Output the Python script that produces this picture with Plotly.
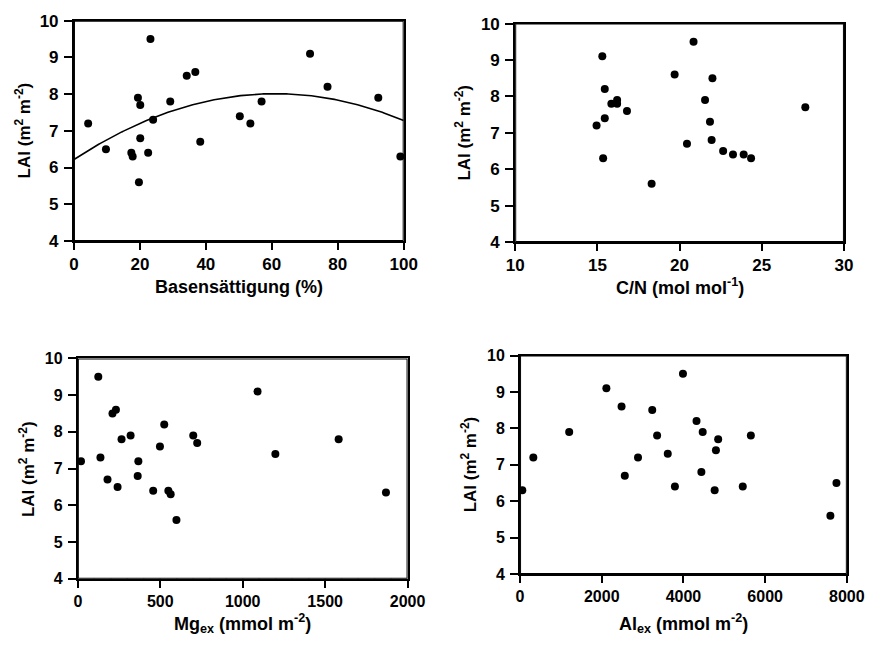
import numpy as np
import plotly.graph_objects as go

# ---------------- data ----------------
bs_x = [4.3, 9.7, 23.2, 19.4, 20.1, 29.2, 24.0, 20.1, 17.4, 17.8, 22.5, 19.7,
        34.2, 36.8, 38.3, 50.3, 53.5, 56.9, 71.6, 76.9, 92.3, 100.2, 99.0]
bs_lai = [7.2, 6.5, 9.5, 7.9, 7.7, 7.8, 7.3, 6.8, 6.4, 6.3, 6.4, 5.6,
          8.5, 8.6, 6.7, 7.4, 7.2, 7.8, 9.1, 8.2, 7.9, 7.6, 6.3]
# quadratic regression LAI = a + b*BS + c*BS^2 (coefficients)
fit_coef = [6.22, 0.0587, -0.000481]

cn_x = [15.3, 15.45, 15.85, 16.2, 16.2, 16.8, 15.45, 14.95, 15.35, 18.3, 19.7,
        20.85, 20.45, 22.0, 21.55, 21.85, 21.95, 22.65, 23.25, 23.9, 24.35, 27.65]
cn_lai = [9.1, 8.2, 7.8, 7.9, 7.8, 7.6, 7.4, 7.2, 6.3, 5.6, 8.6,
          9.5, 6.7, 8.5, 7.9, 7.3, 6.8, 6.5, 6.4, 6.4, 6.3, 7.7]

mg_x = [19, 124, 137, 180, 241, 210, 231, 265, 320, 367, 363, 457, 498, 524,
        549, 563, 598, 700, 724, 1090, 1198, 1582, 1869]
mg_lai = [7.2, 9.5, 7.3, 6.7, 6.5, 8.5, 8.6, 7.8, 7.9, 7.2, 6.8, 6.4, 7.6, 8.2,
          6.4, 6.3, 5.6, 7.9, 7.7, 9.1, 7.4, 7.8, 6.35]

al_x = [55, 325, 1203, 2113, 2485, 2564, 2888, 3236, 3355, 3616, 3791, 3988,
        4320, 4439, 4471, 4764, 4795, 4850, 5452, 5650, 7597, 7746]
al_lai = [6.3, 7.2, 7.9, 9.1, 8.6, 6.7, 7.2, 8.5, 7.8, 7.3, 6.4, 9.5,
          8.2, 6.8, 7.9, 6.3, 7.4, 7.7, 6.4, 7.8, 5.6, 6.5]

lai_ticks = [4, 5, 6, 7, 8, 9, 10]
bs_ticks = [0, 20, 40, 60, 80, 100]
cn_ticks = [10, 15, 20, 25, 30]
mg_ticks = [0, 500, 1000, 1500, 2000]
al_ticks = [0, 2000, 4000, 6000, 8000]

# ---------------- layout geometry ----------------
W, H = 892, 647
def fx(px): return px / W
def fy(py): return 1 - py / H

panels = [
    # (x-left, x-right, y-top, y-bottom) in pixels
    (67, 407, 12, 239),
    (522, 861, 15, 240),
    (71, 411, 360, 587),
    (527, 864, 357, 582),
]

FONT = "Liberation Sans, Arial, sans-serif"
TICK_FS = [17, 17, 16, 16]
XT_FS = 18
YT_FS = 17
MAJ_LEN, MIN_LEN, YT_LEN = 7, 4, 8

fig = go.Figure()
mk = dict(color="black", size=8, line=dict(width=0))

x_ticks = [bs_ticks, cn_ticks, mg_ticks, al_ticks]
x_minor = [None, None, 100, 1000]
series = [(bs_x, bs_lai), (cn_x, cn_lai), (mg_x, mg_lai), (al_x, al_lai)]

for i, (xs, ys) in enumerate(series):
    ax = "" if i == 0 else str(i + 1)
    l, r, t, b = panels[i]
    tv = x_ticks[i]
    lo, hi = tv[0], tv[-1]
    ylo, yhi = lai_ticks[0], lai_ticks[-1]
    xu = (hi - lo) / (r - l)        # data units per pixel, x
    yu = (yhi - ylo) / (b - t)      # data units per pixel, y

    # frame
    fig.add_trace(go.Scatter(x=[lo, hi, hi, lo, lo], y=[ylo, ylo, yhi, yhi, ylo],
                             mode="lines", line=dict(color="black", width=2),
                             xaxis="x" + ax, yaxis="y" + ax, cliponaxis=False,
                             showlegend=False, hoverinfo="skip"))
    # tick marks (outside)
    tx, ty = [], []
    for v in tv:
        tx += [v, v, None]
        ty += [ylo, ylo - MAJ_LEN * yu, None]
    if x_minor[i]:
        for v in np.arange(lo, hi + 1e-9, x_minor[i]):
            if v not in tv:
                tx += [v, v, None]
                ty += [ylo, ylo - MIN_LEN * yu, None]
    for v in lai_ticks:
        tx += [lo, lo - YT_LEN * xu, None]
        ty += [v, v, None]
    fig.add_trace(go.Scatter(x=tx, y=ty, mode="lines", line=dict(color="black", width=1.5),
                             xaxis="x" + ax, yaxis="y" + ax, cliponaxis=False,
                             showlegend=False, hoverinfo="skip"))
    # data
    fig.add_trace(go.Scatter(x=xs, y=ys, mode="markers", marker=mk,
                             xaxis="x" + ax, yaxis="y" + ax, cliponaxis=False,
                             showlegend=False, hoverinfo="x+y"))

xc = np.linspace(0, 100, 201)
yc = fit_coef[0] + fit_coef[1] * xc + fit_coef[2] * xc ** 2
fig.add_trace(go.Scatter(x=xc, y=yc, mode="lines", line=dict(color="black", width=1.6),
                         xaxis="x", yaxis="y", showlegend=False, hoverinfo="skip"))

x_titles = ["Basensättigung (%)", "C/N (mol mol<sup>-1</sup>)",
            "Mg<sub>ex</sub> (mmol m<sup>-2</sup>)", "Al<sub>ex</sub> (mmol m<sup>-2</sup>)"]
x_title_y = [286, 286, 633, 633]
y_title_x = [14, 468, 18, 474]

def bold(vals):
    return ["<b>%s</b>" % v for v in vals]

annotations = []
for i, (l, r, t, b) in enumerate(panels):
    ax = "" if i == 0 else str(i + 1)
    tv = x_ticks[i]
    xaxis = dict(domain=[fx(l), fx(r)], range=[tv[0], tv[-1]],
                 tickmode="array", tickvals=tv, ticktext=bold(tv),
                 anchor="y" + ax, showline=True, linecolor="black", linewidth=2,
                 mirror=True, ticks="outside", ticklen=MAJ_LEN, tickwidth=1.5,
                 tickcolor="black", showgrid=False, zeroline=False,
                 tickfont=dict(family=FONT, size=TICK_FS[i], color="black"))
    yaxis = dict(domain=[fy(b), fy(t)], range=[lai_ticks[0], lai_ticks[-1]],
                 tickmode="array", tickvals=lai_ticks, ticktext=bold(lai_ticks),
                 anchor="x" + ax, showline=True, linecolor="black", linewidth=2,
                 mirror=True, ticks="outside", ticklen=YT_LEN, tickwidth=1.5,
                 tickcolor="black", showgrid=False, zeroline=False, ticklabelstandoff=2,
                 tickfont=dict(family=FONT, size=TICK_FS[i], color="black"))
    fig.update_layout(**{"xaxis" + ax: xaxis, "yaxis" + ax: yaxis})

    annotations.append(dict(text="<b>%s</b>" % x_titles[i], xref="paper", yref="paper",
                            x=fx((l + r) / 2), y=fy(x_title_y[i]), xanchor="center",
                            yanchor="middle", showarrow=False,
                            font=dict(family=FONT, size=XT_FS, color="black")))
    annotations.append(dict(text="<b>LAI (m<sup>2</sup> m<sup>-2</sup>)</b>", xref="paper",
                            yref="paper", x=fx(y_title_x[i]), y=fy((t + b) / 2),
                            xanchor="center", yanchor="middle", textangle=-90,
                            showarrow=False,
                            font=dict(family=FONT, size=YT_FS, color="black")))

fig.update_layout(width=W, height=H, margin=dict(l=0, r=0, t=0, b=0),
                  paper_bgcolor="white", plot_bgcolor="white",
                  annotations=annotations)

fig.write_html("out.html")
